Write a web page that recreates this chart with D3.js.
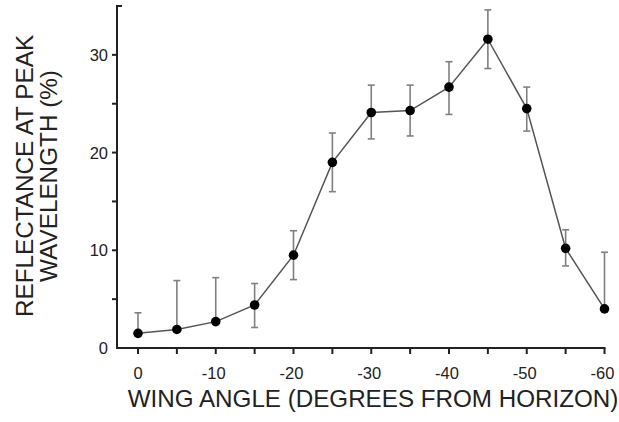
<!DOCTYPE html>
<html><head><meta charset="utf-8">
<script src="https://cdn.jsdelivr.net/npm/d3@7"></script>
<style>
html,body{margin:0;padding:0;background:#fff;}
svg{display:block;font-family:"Liberation Sans",Arial,sans-serif;}
</style></head>
<body>
<svg id="chart" width="619" height="422"></svg>
<script>
const angles = [0, -5, -10, -15, -20, -25, -30, -35, -40, -45, -50, -55, -60];
const reflectance = [1.5, 1.9, 2.7, 4.4, 9.5, 19.0, 24.1, 24.3, 26.7, 31.6, 24.5, 10.2, 4.0];
const errUpper = [3.6, 6.9, 7.2, 6.6, 12.0, 22.0, 26.9, 26.9, 29.3, 34.6, 26.7, 12.1, 9.8];
const errLower = [null, null, null, 2.1, 7.0, 16.0, 21.4, 21.7, 23.9, 28.6, 22.2, 8.4, null];
const xTickValues = [0, -10, -20, -30, -40, -50, -60];
const xMinorTicks = [-5, -15, -25, -35, -45, -55];
const yTickValues = [0, 10, 20, 30];
const yMinorTicks = [5, 15, 25];
const xTitle = "WING ANGLE (DEGREES FROM HORIZON)";
const yTitleLines = ["REFLECTANCE AT PEAK", "WAVELENGTH (%)"];

const svg = d3.select("#chart");
const x = d3.scaleLinear().domain([0, -60]).range([138, 604.5]);
const y = d3.scaleLinear().domain([0, 35]).range([348, 6]);
const axisX0 = 117;
const textCol = "#222";

// error bars
const eb = svg.append("g").attr("stroke", "#808080").attr("stroke-width", 1.6).attr("fill", "none");
angles.forEach((a, i) => {
  const cx = x(a);
  const top = errUpper[i];
  const bot = errLower[i] == null ? reflectance[i] : errLower[i];
  eb.append("line").attr("x1", cx).attr("x2", cx).attr("y1", y(top)).attr("y2", y(bot));
  eb.append("line").attr("x1", cx - 3.5).attr("x2", cx + 3.5).attr("y1", y(top)).attr("y2", y(top));
  if (errLower[i] != null) {
    eb.append("line").attr("x1", cx - 3.5).attr("x2", cx + 3.5).attr("y1", y(bot)).attr("y2", y(bot));
  }
});

// line
const line = d3.line().x((d, i) => x(angles[i])).y(d => y(d));
svg.append("path").datum(reflectance).attr("d", line)
  .attr("fill", "none").attr("stroke", "#555").attr("stroke-width", 1.5);

// points
svg.append("g").selectAll("circle").data(reflectance).join("circle")
  .attr("cx", (d, i) => x(angles[i])).attr("cy", d => y(d)).attr("r", 4.8)
  .attr("fill", "#000");

// axes
const ax = svg.append("g").attr("stroke", "#222").attr("stroke-width", 2).attr("fill", "none");
ax.append("line").attr("x1", axisX0).attr("x2", x(-60) + 1).attr("y1", y(0)).attr("y2", y(0));
ax.append("line").attr("x1", axisX0).attr("x2", axisX0).attr("y1", y(0) + 1).attr("y2", y(35));
ax.append("line").attr("x1", axisX0 - 1).attr("x2", axisX0 + 5).attr("y1", y(35)).attr("y2", y(35));
[...xTickValues, ...xMinorTicks].forEach(v => {
  ax.append("line").attr("x1", x(v)).attr("x2", x(v)).attr("y1", y(0)).attr("y2", y(0) + 6);
});
[...yTickValues, ...yMinorTicks].forEach(v => {
  if (v === 0) return;
  ax.append("line").attr("x1", axisX0 - 5).attr("x2", axisX0).attr("y1", y(v)).attr("y2", y(v));
});

// tick labels
svg.append("g").selectAll("text").data(xTickValues).join("text")
  .attr("x", d => x(d) + (d === 0 ? 0 : -2)).attr("y", 379)
  .attr("text-anchor", "middle").attr("font-size", 16.5).attr("fill", textCol)
  .text(d => d === 0 ? "0" : "-" + Math.abs(d));
svg.append("g").selectAll("text").data(yTickValues).join("text")
  .attr("x", 108).attr("y", d => y(d) + 6)
  .attr("text-anchor", "end").attr("font-size", 16.5).attr("fill", textCol)
  .text(d => d);

// titles
svg.append("text").attr("x", 373).attr("y", 407).attr("text-anchor", "middle")
  .attr("font-size", 24.2).attr("fill", textCol).text(xTitle);
yTitleLines.forEach((t, i) => {
  svg.append("text").attr("transform", `translate(${33 + i * 24},176) rotate(-90)`)
    .attr("text-anchor", "middle").attr("font-size", 24.3).attr("fill", textCol).text(t);
});
</script>
</body></html>
